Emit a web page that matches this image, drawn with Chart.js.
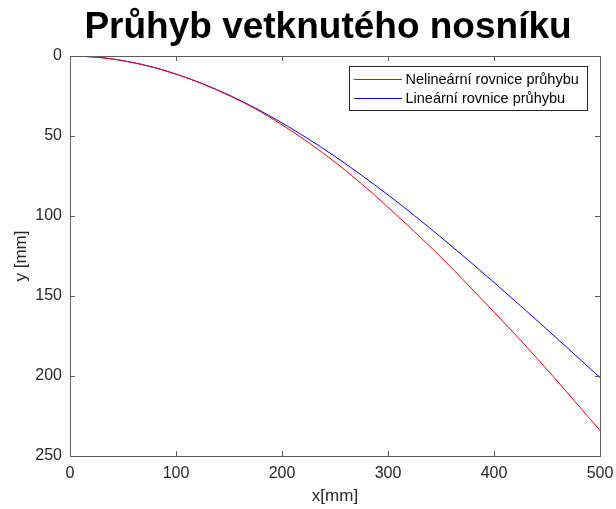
<!DOCTYPE html>
<html>
<head>
<meta charset="utf-8">
<script src="https://cdn.jsdelivr.net/npm/chart.js@4/dist/chart.umd.min.js"></script>
<style>
  body { margin: 0; background: #fff; }
  canvas { display: block; }
</style>
</head>
<body>
<canvas id="deflectionChart" width="616" height="509"></canvas>
<script>
const chartTitle = "Průhyb vetknutého nosníku";
const seriesLabels = ["Nelineární rovnice průhybu", "Lineární rovnice průhybu"];
const seriesColors = ["#ff0000", "#0000ff"];
const xValues = [0, 25, 50, 75, 100, 125, 150, 175, 200, 225, 250, 275, 300, 325, 350, 375, 400, 425, 450, 475, 500];
const nonlinearY = [0, 0.7, 2.9, 6.5, 11.3, 17.4, 24.7, 33.0, 43.0, 54.1, 66.3, 79.8, 94.5, 109.8, 125.8, 142.7, 160.0, 177.6, 195.9, 214.9, 234.0];
const linearY = [0, 0.7, 2.9, 6.4, 11.3, 17.3, 24.4, 32.6, 41.8, 51.9, 62.8, 74.5, 86.8, 99.8, 113.3, 127.2, 141.5, 156.1, 170.9, 185.9, 201.0];
const xTicks = [0, 100, 200, 300, 400, 500];
const yTicks = [0, 50, 100, 150, 200, 250];

const fontFamily = "'Liberation Sans', Arial, Helvetica, sans-serif";
const axisColor = "#5c5c5c";
const textColor = "#262626";

function toPoints(ys) {
    return xValues.map((x, i) => ({ x: x, y: ys[i] }));
}

// MATLAB-like box with inward ticks, title and legend
const matlabFrame = {
    id: "matlabFrame",
    afterDraw(chart) {
        const { ctx, chartArea, scales } = chart;
        const { left, right, top, bottom } = chartArea;
        const tickLen = 5;

        ctx.save();
        ctx.strokeStyle = axisColor;
        ctx.lineWidth = 1;
        ctx.strokeRect(Math.round(left) + 0.5, Math.round(top) + 0.5,
            Math.round(right - left), Math.round(bottom - top));

        ctx.beginPath();
        xTicks.forEach((v) => {
            const px = Math.round(scales.x.getPixelForValue(v)) + 0.5;
            ctx.moveTo(px, bottom);
            ctx.lineTo(px, bottom - tickLen);
            ctx.moveTo(px, top);
            ctx.lineTo(px, top + tickLen);
        });
        yTicks.forEach((v) => {
            const py = Math.round(scales.y.getPixelForValue(v)) + 0.5;
            ctx.moveTo(left, py);
            ctx.lineTo(left + tickLen, py);
            ctx.moveTo(right, py);
            ctx.lineTo(right - tickLen, py);
        });
        ctx.stroke();

        // title
        ctx.fillStyle = "#000";
        ctx.font = "bold 37px " + fontFamily;
        ctx.textAlign = "center";
        ctx.textBaseline = "middle";
        ctx.fillText(chartTitle, 328, 28);

        // legend
        const lx = 349.5, ly = 66.5, lw = 238, lh = 44;
        ctx.fillStyle = "#fff";
        ctx.fillRect(lx, ly, lw, lh);
        ctx.strokeStyle = "#262626";
        ctx.strokeRect(lx, ly, lw, lh);
        ctx.font = "14.5px " + fontFamily;
        ctx.textAlign = "left";
        seriesLabels.forEach((label, i) => {
            const y = 79 + i * 19;
            ctx.fillStyle = seriesColors[i];
            ctx.fillRect(354, y, 48, 1);
            ctx.fillStyle = "#000";
            ctx.fillText(label, 405.5, y + 0.5);
        });
        ctx.restore();
    },
};

new Chart(document.getElementById("deflectionChart"), {
    type: "line",
    data: {
        datasets: [
            {
                label: seriesLabels[0],
                data: toPoints(nonlinearY),
                borderColor: seriesColors[0],
                borderWidth: 1,
                pointRadius: 0,
                cubicInterpolationMode: "monotone",
            },
            {
                label: seriesLabels[1],
                data: toPoints(linearY),
                borderColor: seriesColors[1],
                borderWidth: 1,
                pointRadius: 0,
                cubicInterpolationMode: "monotone",
            },
        ],
    },
    options: {
        responsive: false,
        animation: false,
        layout: { padding: { top: 56, right: 16, left: 0, bottom: 0 } },
        plugins: {
            legend: { display: false },
            title: { display: false },
            tooltip: { enabled: false },
        },
        scales: {
            x: {
                type: "linear",
                min: 0,
                max: 500,
                afterFit: (scale) => {
                    scale.height = 53;
                    scale.paddingLeft = 0;
                    scale.paddingRight = 0;
                },
                afterBuildTicks: (scale) => { scale.ticks = xTicks.map((v) => ({ value: v })); },
                grid: { display: false, drawTicks: false },
                border: { display: false },
                ticks: {
                    padding: 8,
                    color: textColor,
                    font: { family: fontFamily, size: 16 },
                    maxRotation: 0,
                },
                title: {
                    display: true,
                    text: "x[mm]",
                    color: textColor,
                    font: { family: fontFamily, size: 17 },
                    padding: { top: 0, bottom: 2 },
                },
            },
            y: {
                type: "linear",
                reverse: true,
                min: 0,
                max: 250,
                afterFit: (scale) => {
                    scale.width = 70;
                    scale.paddingTop = 0;
                    scale.paddingBottom = 0;
                },
                afterBuildTicks: (scale) => { scale.ticks = yTicks.map((v) => ({ value: v })); },
                grid: { display: false, drawTicks: false },
                border: { display: false },
                ticks: {
                    padding: 8,
                    color: textColor,
                    font: { family: fontFamily, size: 16 },
                },
                title: {
                    display: true,
                    text: "y [mm]",
                    color: textColor,
                    font: { family: fontFamily, size: 17 },
                    padding: { top: 11, bottom: 0 },
                },
            },
        },
    },
    plugins: [matlabFrame],
});
</script>
</body>
</html>
